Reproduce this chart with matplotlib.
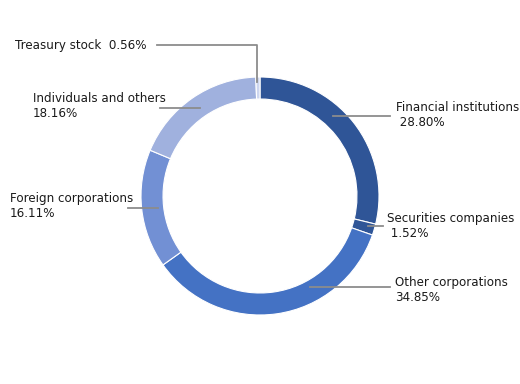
import matplotlib
matplotlib.use('Agg')
import matplotlib.pyplot as plt

# shareholder composition (%)
categories = ['Financial institutions', 'Securities companies', 'Other corporations',
              'Foreign corporations', 'Individuals and others', 'Treasury stock']
shares = [28.80, 1.52, 34.85, 16.11, 18.16, 0.56]
colors = ['#2f5597', '#2f5597', '#4472c4', '#7290d4', '#a0b1de', '#cdd6ef']

W, H = 520, 384
CX, CY, R = 260, 196, 119


def px(x, y):
    """pixel coords (top-left origin) -> data coords of the pie axes"""
    return (x - CX) / R, (CY - y) / R


fig = plt.figure(figsize=(W / 100, H / 100), dpi=100)
ax = fig.add_axes([(CX - R) / W, (H - CY - R) / H, 2 * R / W, 2 * R / H])
ax.pie(shares, colors=colors, startangle=90, counterclock=False, radius=1,
       wedgeprops=dict(width=0.185, edgecolor='white', linewidth=0.8))
ax.set_xlim(-1, 1)
ax.set_ylim(-1, 1)
ax.set_aspect('equal')
ax.axis('off')

# leader lines (pixel paths) and label anchors
leaders = [
    [(333, 116), (390, 116)],
    [(368, 226), (383, 226)],
    [(310, 287), (390, 287)],
    [(128, 208), (158, 208)],
    [(160, 108), (200, 108)],
    [(157, 45), (257, 45), (257, 82)],
]
label_pos = [(396, 115, 'left'), (387, 226, 'left'), (395, 290, 'left'),
             (10, 206, 'left'), (33, 106, 'left'), (15, 45, 'left')]

for pts, (lx, ly, ha), cat, val in zip(leaders, label_pos, categories, shares):
    xs, ys = zip(*[px(*p) for p in pts])
    ax.plot(xs, ys, color='#8c8c8c', lw=1.3, clip_on=False)
    if cat == 'Treasury stock':
        txt = f'{cat}  {val:.2f}%'
    elif cat in ('Financial institutions', 'Securities companies'):
        txt = f'{cat}\n {val:.2f}%'
    else:
        txt = f'{cat}\n{val:.2f}%'
    tx, ty = px(lx, ly)
    ax.text(tx, ty, txt, ha=ha, va='center', fontsize=8.6, color='#1a1a1a',
            linespacing=1.2, clip_on=False)

fig.savefig('out.png', dpi=100)
